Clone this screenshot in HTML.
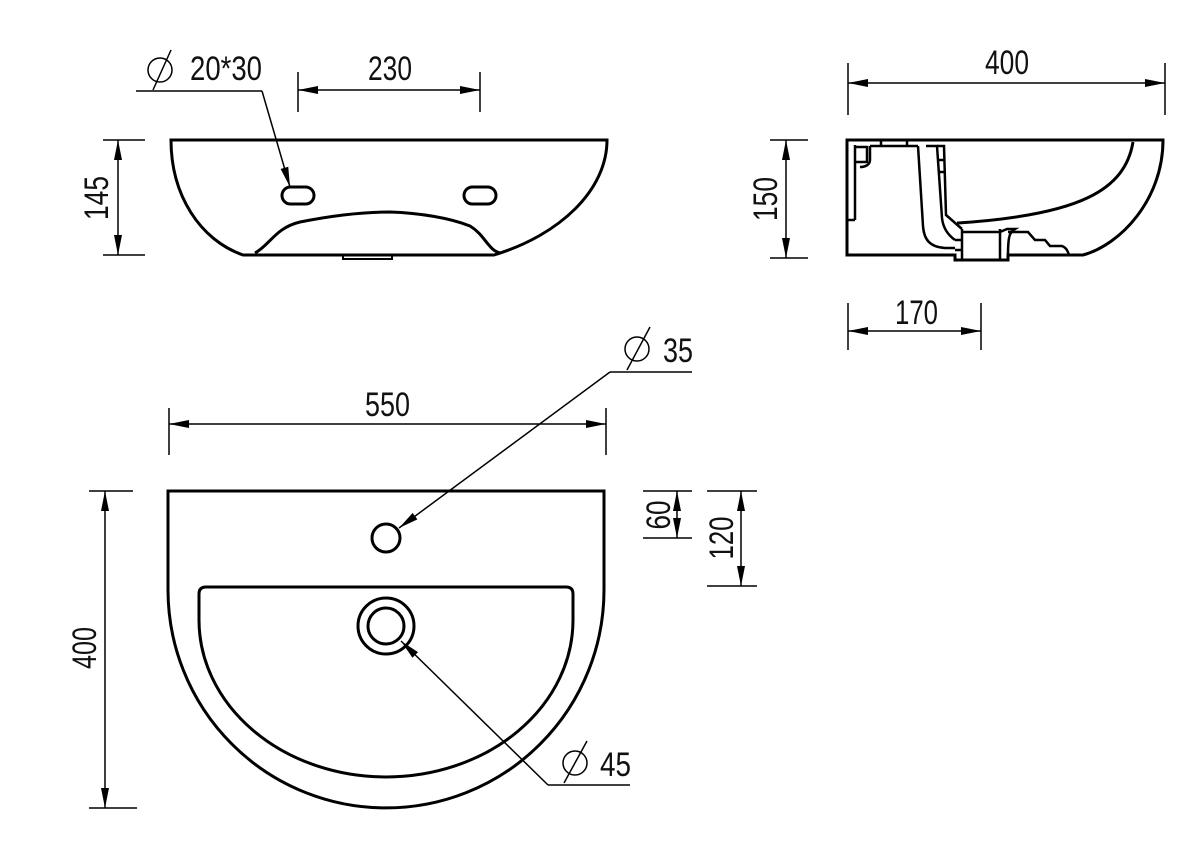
<!DOCTYPE html>
<html><head><style>html,body{margin:0;padding:0;background:#fff}svg{display:block}
text{font-family:"Liberation Sans Narrow","Liberation Sans",sans-serif;font-size:34px;fill:#111}</style></head>
<body>
<svg width="1200" height="848" viewBox="0 0 1200 848" xmlns="http://www.w3.org/2000/svg">
<defs>
<marker id="a" viewBox="0 0 20 8" refX="20" refY="4" markerWidth="20" markerHeight="8" markerUnits="userSpaceOnUse" orient="auto-start-reverse"><path d="M0,0 L20,4 L0,8 z" fill="#000"/></marker>
</defs>
<g fill="none" stroke="#000" stroke-width="3">
<!-- front view -->
<path d="M171,140 H607 C607,190 560,235 494,255 H243 C200,240 171,195 171,140 Z"/>
<path d="M255,253 C270,245 275,228 300,222 C340,214 370,212 390,212 C420,213 450,218 470,226 C485,235 488,250 500,253"/>
<rect x="282" y="187" width="32" height="17" rx="8.5"/>
<rect x="464" y="187" width="32" height="17" rx="8.5"/>
<path d="M343,255 V259 H392 V255" stroke-width="2"/>
<!-- side view -->
<path d="M847,140 H1163 C1163,200 1120,245 1083,255 H1008 V260 H955 V255 H847 Z"/>
<path d="M1133,142 C1125,190 1080,215 958,223 H957"/>
<path d="M855,145 V220 M855,220 H847" stroke-width="2.5"/>
<path d="M856,147 H867 V162 H856" stroke-width="2.5"/>
<path d="M870,146 H918 M870,146 V160 C870,165 865,167 860,167" stroke-width="2.5"/>
<path d="M881,140 V146 M907,140 V146" stroke-width="2.5"/>
<path d="M918,146 L923,226 C924,240 930,247 945,248 H955" stroke-width="2.5"/>
<path d="M926,146 H937 L942,218 C943,228 948,235 955,240" stroke-width="2.5"/>
<path d="M937,146 H944 L946,215 L962,229" stroke-width="2.5"/>
<path d="M937,160 H945 M938,172 H946" stroke-width="2.5"/>
<path d="M962,229 V260 M1000,229 V260 M962,232 H1000 M955,240 H962 M955,250 H962" stroke-width="2.5"/>
<path d="M1000,232 L1007,229 H1015 C1010,232 1008,235 1008,255" stroke-width="2.5"/>
<path d="M1008,232 H1028 L1035,240 H1045 L1050,246 H1062 C1067,248 1068,252 1069,255" stroke-width="2.5"/>
<!-- plan view -->
<path d="M168,491 H604 V590 A218,218 0 0 1 168,590 Z"/>
<path d="M206,587 H566 Q573,587 573,594 V620 A187,157 0 0 1 199,620 V594 Q199,587 206,587 Z"/>
<circle cx="386" cy="538" r="14"/>
<circle cx="386" cy="626" r="28"/>
<circle cx="386" cy="626" r="18"/>
</g>
<g fill="none" stroke="#000" stroke-width="1.5">
<!-- 230 -->
<path d="M298,72 V112 M480,72 V112"/>
<line x1="298" y1="90" x2="480" y2="90" marker-start="url(#a)" marker-end="url(#a)"/>
<!-- 20*30 leader -->
<path d="M136,91 H262"/>
<line x1="262" y1="91" x2="290" y2="187" marker-end="url(#a)"/>
<circle cx="160" cy="70" r="12"/><path d="M153,90 L171,50"/>
<!-- 145 -->
<path d="M103,140 H145 M103,255 H145"/>
<line x1="118" y1="140" x2="118" y2="255" marker-start="url(#a)" marker-end="url(#a)"/>
<!-- 400 top -->
<path d="M848,63 V115 M1165,63 V115"/>
<line x1="848" y1="83" x2="1165" y2="83" marker-start="url(#a)" marker-end="url(#a)"/>
<!-- 150 -->
<path d="M770,140 H808 M770,258 H808"/>
<line x1="786" y1="140" x2="786" y2="258" marker-start="url(#a)" marker-end="url(#a)"/>
<!-- 170 -->
<path d="M848,303 V350 M981,303 V350"/>
<line x1="848" y1="331" x2="981" y2="331" marker-start="url(#a)" marker-end="url(#a)"/>
<!-- 550 -->
<path d="M169,408 V455 M606,408 V455"/>
<line x1="169" y1="424" x2="606" y2="424" marker-start="url(#a)" marker-end="url(#a)"/>
<!-- 400 vertical -->
<path d="M89,491 H133 M89,808 H137"/>
<line x1="105" y1="491" x2="105" y2="808" marker-start="url(#a)" marker-end="url(#a)"/>
<!-- 60 -->
<path d="M643,491 H692 M643,538 H692"/>
<line x1="677" y1="491" x2="677" y2="538" marker-start="url(#a)" marker-end="url(#a)"/>
<!-- 120 -->
<path d="M707,491 H757 M707,586 H757"/>
<line x1="741" y1="491" x2="741" y2="586" marker-start="url(#a)" marker-end="url(#a)"/>
<!-- Ø35 -->
<path d="M610,372 H692"/>
<line x1="610" y1="372" x2="399" y2="528" marker-end="url(#a)"/>
<circle cx="637" cy="349" r="12"/><path d="M627,370 L650,327"/>
<!-- Ø45 -->
<path d="M548,785 H630"/>
<line x1="548" y1="785" x2="401" y2="641" marker-end="url(#a)"/>
<circle cx="575" cy="763" r="12"/><path d="M564,783 L587,741"/>
</g>
<g>
<text x="190" y="80" textLength="72" lengthAdjust="spacingAndGlyphs">20*30</text>
<text x="368" y="80" textLength="44" lengthAdjust="spacingAndGlyphs">230</text>
<text x="985" y="74" textLength="44" lengthAdjust="spacingAndGlyphs">400</text>
<text x="895" y="324" textLength="43" lengthAdjust="spacingAndGlyphs">170</text>
<text x="365" y="416" textLength="45" lengthAdjust="spacingAndGlyphs">550</text>
<text x="663" y="362" textLength="30" lengthAdjust="spacingAndGlyphs">35</text>
<text x="600" y="776" textLength="31" lengthAdjust="spacingAndGlyphs">45</text>
<text transform="translate(108,198) rotate(-90)" text-anchor="middle" textLength="44" lengthAdjust="spacingAndGlyphs">145</text>
<text transform="translate(777,199) rotate(-90)" text-anchor="middle" textLength="44" lengthAdjust="spacingAndGlyphs">150</text>
<text transform="translate(96,648) rotate(-90)" text-anchor="middle" textLength="42" lengthAdjust="spacingAndGlyphs">400</text>
<text transform="translate(670,515) rotate(-90)" text-anchor="middle" textLength="29" lengthAdjust="spacingAndGlyphs">60</text>
<text transform="translate(733,538) rotate(-90)" text-anchor="middle" textLength="43" lengthAdjust="spacingAndGlyphs">120</text>
</g>
</svg>
</body></html>
